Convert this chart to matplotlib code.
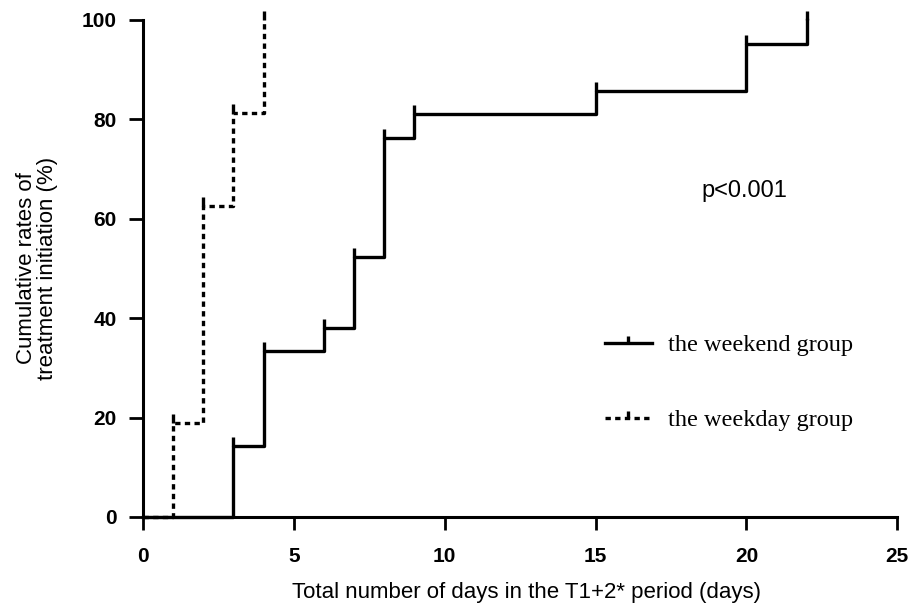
import matplotlib.pyplot as plt
from matplotlib.path import Path
from matplotlib.lines import Line2D

# cumulative treatment initiation (%) by day
weekend_days = [3, 4, 6, 7, 8, 9, 15, 20, 22]
weekend_rate = [14.3, 33.3, 38.1, 52.4, 76.2, 81.0, 85.7, 95.2, 100.0]
weekday_days = [1, 2, 3, 4]
weekday_rate = [18.8, 62.5, 81.3, 100.0]

x_ticks = [0, 5, 10, 15, 20, 25]
y_ticks = [0, 20, 40, 60, 80, 100]

tick_up = Path([[0, 0], [0, 1]])  # censor-style tick pointing up from the step

fig = plt.figure(figsize=(9.1, 6.06), dpi=100)
ax = fig.add_axes([0.157, 0.147, 0.829, 0.82])

lw = 2.4
dash = (1.6, 1.3)

ax.step([0] + weekend_days, [0] + weekend_rate, where='post', color='black', lw=lw, clip_on=False)
ax.plot(weekend_days, weekend_rate, ls='none', marker=tick_up, ms=13, mew=lw, color='black', clip_on=False)

ax.step([0] + weekday_days, [0] + weekday_rate, where='post', color='black', lw=lw,
        dashes=dash, clip_on=False)
ax.plot(weekday_days, weekday_rate, ls='none', marker=tick_up, ms=13, mew=lw, color='black', clip_on=False)

ax.set_xlim(0, 25)
ax.set_ylim(0, 100)
ax.set_xticks(x_ticks)
ax.set_yticks(y_ticks)

for side in ['top', 'right']:
    ax.spines[side].set_visible(False)
for side in ['left', 'bottom']:
    ax.spines[side].set_linewidth(2.2)

ax.tick_params(axis='y', direction='out', length=10, width=2.0, pad=9)
ax.tick_params(axis='x', direction='out', length=9.5, width=2.0, pad=12)
for lab in ax.get_yticklabels() + ax.get_xticklabels():
    lab.set_fontfamily('Liberation Sans')
    lab.set_fontweight('bold')
    lab.set_fontsize(15)

ax.set_xlabel('Total number of days in the T1+2* period (days)', fontfamily='Liberation Sans',
              fontsize=16)
ax.xaxis.set_label_coords(0.508, -0.13)
ax.set_ylabel('Cumulative rates of\ntreatment initiation (%)', fontfamily='Liberation Sans',
              fontsize=16, linespacing=1.0)
ax.yaxis.set_label_coords(-0.113, 0.5)

ax.text(0.798, 0.656, 'p<0.001', transform=ax.transAxes, ha='center', va='center',
        fontfamily='Liberation Sans', fontsize=17)

handles = [
    Line2D([], [], color='black', lw=lw, marker=tick_up, ms=10, mew=lw),
    Line2D([], [], color='black', lw=lw, dashes=dash, marker=tick_up, ms=10, mew=lw),
]
ax.legend(handles, ['the weekend group', 'the weekday group'], loc='center left',
          bbox_to_anchor=(0.583, 0.27), frameon=False, numpoints=1, handlelength=1.94,
          handletextpad=0.66, labelspacing=2.2, prop={'family': 'Liberation Serif', 'size': 17.5})

fig.savefig('out.png', dpi=100)
